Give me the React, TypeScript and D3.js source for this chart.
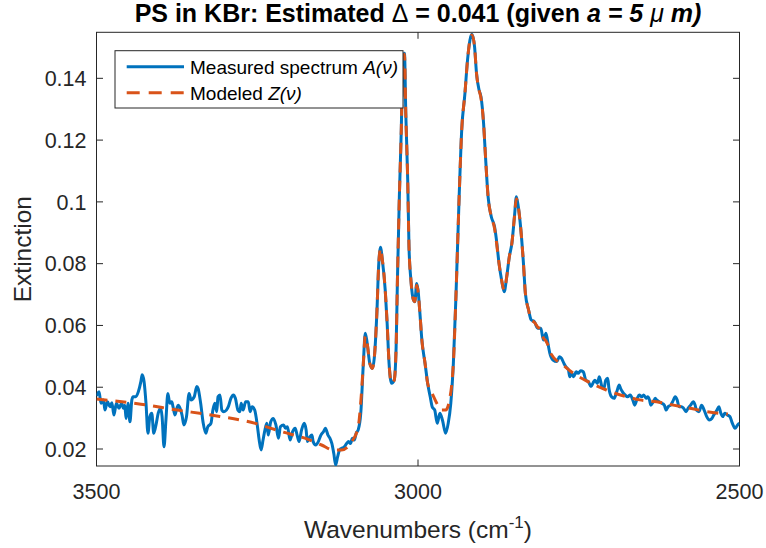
import React from "react";
import * as d3 from "d3";

const measuredWn = [3500,3496,3493,3489,3487,3483,3479,3476,3473,3469,3465,3461,3458,3456,3454,3451,3448,3445,3443,3439,3435,3431,3429,3426,3423,3420,3417,3414,3411,3407,3404,3400,3398,3395,3392,3389,3386,3383,3381,3378,3375,3373,3370,3367,3364,3360,3356,3353,3348,3344,3342,3338,3334,3330,3327,3322,3319,3316,3313,3311,3308,3305,3302,3298,3295,3291,3287,3284,3280,3277,3275,3272,3268,3264,3261,3258,3254,3250,3247,3244,3241,3238,3235,3233,3229,3225,3221,3217,3214,3209,3206,3203,3199,3195,3191,3188,3185,3181,3177,3174,3172,3168,3165,3163,3159,3155,3151,3147,3144,3140,3137,3134,3131,3128,3125,3122,3119,3115,3111,3108,3105,3102,3099,3096,3093,3089,3085,3082,3079,3075,3071,3068,3064,3061,3058,3056,3051,3048,3045,3041,3037,3034,3032,3029,3026,3024,3021,3019,3016,3014,3011,3007,3005,3002,3000,2997,2994,2989,2985,2981,2978,2974,2970,2966,2962,2957,2953,2949,2945,2941,2936,2932,2927,2923,2918,2916,2912,2909,2905,2902,2898,2895,2891,2886,2881,2878,2874,2870,2866,2862,2858,2854,2850,2847,2844,2840,2836,2833,2828,2824,2819,2814,2809,2805,2801,2797,2795,2790,2784,2780,2777,2773,2770,2766,2764,2761,2758,2754,2751,2747,2743,2739,2735,2731,2728,2725,2721,2718,2714,2711,2708,2705,2703,2699,2695,2691,2687,2685,2682,2678,2674,2670,2666,2663,2659,2656,2652,2649,2645,2643,2640,2638,2634,2631,2629,2625,2621,2617,2614,2611,2607,2604,2600,2597,2594,2590,2587,2583,2580,2576,2572,2569,2567,2563,2559,2555,2551,2547,2543,2540,2535,2532,2529,2526,2523,2519,2515,2511,2507,2503,2500];
const measuredVal = [0.0372,0.0385,0.0348,0.0359,0.0326,0.0353,0.0337,0.0350,0.0310,0.0348,0.0332,0.0348,0.0332,0.0342,0.0299,0.0348,0.0288,0.0359,0.0369,0.0369,0.0385,0.0418,0.0440,0.0418,0.0348,0.0251,0.0305,0.0316,0.0251,0.0283,0.0316,0.0332,0.0305,0.0207,0.0294,0.0380,0.0348,0.0353,0.0337,0.0310,0.0332,0.0342,0.0332,0.0310,0.0278,0.0305,0.0380,0.0359,0.0369,0.0402,0.0396,0.0348,0.0283,0.0251,0.0272,0.0283,0.0326,0.0348,0.0321,0.0369,0.0375,0.0326,0.0321,0.0326,0.0337,0.0364,0.0375,0.0364,0.0326,0.0321,0.0348,0.0326,0.0353,0.0353,0.0321,0.0337,0.0326,0.0278,0.0229,0.0197,0.0229,0.0262,0.0283,0.0245,0.0288,0.0299,0.0278,0.0235,0.0272,0.0278,0.0267,0.0272,0.0229,0.0256,0.0267,0.0245,0.0224,0.0262,0.0283,0.0262,0.0224,0.0240,0.0245,0.0224,0.0213,0.0224,0.0245,0.0256,0.0267,0.0245,0.0235,0.0218,0.0186,0.0148,0.0175,0.0197,0.0202,0.0206,0.0218,0.0224,0.0218,0.0235,0.0229,0.0252,0.0262,0.0316,0.0477,0.0575,0.0542,0.0477,0.0461,0.0494,0.0639,0.0801,0.0853,0.0822,0.0715,0.0607,0.0477,0.0413,0.0423,0.0531,0.0747,0.1017,0.1233,0.1427,0.1481,0.1287,0.1071,0.0855,0.0747,0.0682,0.0677,0.0736,0.0715,0.0639,0.0553,0.0477,0.0413,0.0369,0.0337,0.0326,0.0283,0.0316,0.0294,0.0251,0.0283,0.0348,0.0477,0.0693,0.1017,0.1233,0.1351,0.1459,0.1535,0.1543,0.1502,0.1416,0.1362,0.1340,0.1254,0.1146,0.1017,0.0952,0.0920,0.0877,0.0801,0.0747,0.0709,0.0758,0.0822,0.0866,0.0952,0.1017,0.0984,0.0909,0.0801,0.0704,0.0650,0.0618,0.0612,0.0591,0.0591,0.0553,0.0575,0.0531,0.0510,0.0488,0.0483,0.0499,0.0494,0.0477,0.0466,0.0456,0.0434,0.0445,0.0434,0.0450,0.0445,0.0453,0.0450,0.0423,0.0418,0.0402,0.0413,0.0423,0.0413,0.0434,0.0402,0.0396,0.0423,0.0429,0.0396,0.0369,0.0364,0.0385,0.0407,0.0396,0.0385,0.0375,0.0369,0.0375,0.0359,0.0342,0.0364,0.0375,0.0369,0.0375,0.0364,0.0369,0.0359,0.0342,0.0353,0.0364,0.0359,0.0353,0.0348,0.0342,0.0326,0.0337,0.0342,0.0353,0.0369,0.0359,0.0337,0.0337,0.0332,0.0321,0.0332,0.0342,0.0353,0.0342,0.0326,0.0321,0.0342,0.0326,0.0305,0.0294,0.0299,0.0310,0.0326,0.0337,0.0316,0.0305,0.0316,0.0310,0.0305,0.0283,0.0267,0.0278,0.0284];

const modelWn = [3500,3431,3374,3322,3253,3212,3176,3150,3132,3119,3103,3093,3088,3085,3082,3079,3075,3071,3068,3064,3061,3058,3056,3051,3048,3045,3041,3037,3034,3032,3029,3026,3024,3021,3019,3016,3014,3011,3007,3005,3002,3000,2997,2994,2989,2985,2977,2970,2963,2957,2951,2947,2945,2941,2936,2932,2927,2923,2918,2916,2912,2909,2905,2902,2898,2895,2891,2886,2881,2878,2874,2870,2866,2862,2858,2854,2850,2847,2844,2840,2836,2833,2828,2824,2819,2814,2809,2805,2801,2797,2795,2771,2759,2740,2707,2675,2655,2629,2603,2577,2551,2518];
const modelVal = [0.0362,0.0345,0.0326,0.0310,0.0283,0.0256,0.0235,0.0213,0.0197,0.0197,0.0224,0.0272,0.0380,0.0477,0.0565,0.0542,0.0477,0.0461,0.0494,0.0639,0.0801,0.0850,0.0822,0.0715,0.0607,0.0477,0.0413,0.0423,0.0531,0.0747,0.1017,0.1233,0.1427,0.1478,0.1287,0.1071,0.0855,0.0747,0.0682,0.0677,0.0730,0.0712,0.0639,0.0553,0.0477,0.0413,0.0375,0.0345,0.0326,0.0326,0.0359,0.0420,0.0477,0.0693,0.1017,0.1233,0.1351,0.1459,0.1535,0.1540,0.1502,0.1416,0.1362,0.1335,0.1254,0.1146,0.1017,0.0952,0.0915,0.0870,0.0801,0.0747,0.0715,0.0758,0.0822,0.0866,0.0952,0.1010,0.0984,0.0909,0.0801,0.0704,0.0650,0.0618,0.0610,0.0595,0.0585,0.0560,0.0550,0.0531,0.0515,0.0466,0.0446,0.0423,0.0391,0.0369,0.0359,0.0353,0.0342,0.0332,0.0321,0.0313];

const yTicks = [0.02, 0.04, 0.06, 0.08, 0.1, 0.12, 0.14];
const xTicks = [3500, 3000, 2500];
const legendLabels = ["Measured spectrum ", "Modeled "];
const legendSymbols = ["A(\u03bd)", "Z(\u03bd)"];

const W = 766, H = 548;
const M = { left: 96.5, right: 739.5, top: 32.3, bottom: 466 };
const FONT = "'Liberation Sans', Arial, Helvetica, sans-serif";
const AX = "#262626";
const BLUE = "#0072BD";
const ORANGE = "#D95319";

export default function App() {
  const x = d3.scaleLinear().domain([3500, 2500]).range([M.left, M.right]);
  const y = d3.scaleLinear().domain([0.0145, 0.1549]).range([M.bottom, M.top]);

  const measured = measuredWn.map((w, i) => [w, measuredVal[i]] as [number, number]);
  const model = modelWn.map((w, i) => [w, modelVal[i]] as [number, number]);

  const line = d3
    .line<[number, number]>()
    .x((d) => x(d[0]))
    .y((d) => y(d[1]))
    .curve(d3.curveMonotoneX);

  const tl = 6.5;
  const cx = (M.left + M.right) / 2;
  const cy = (M.top + M.bottom) / 2;

  const lg = { x: 115, y: 50.7, w: 288, h: 57.3 };

  return (
    <svg width={W} height={H} style={{ position: "absolute", left: 0, top: 0, background: "#fff" }} fontFamily={FONT}>
      <defs>
        <clipPath id="plotclip">
          <rect x={M.left} y={M.top} width={M.right - M.left} height={M.bottom - M.top} />
        </clipPath>
      </defs>
      <rect width={W} height={H} fill="#fff" />
      <rect x={M.left} y={M.top} width={M.right - M.left} height={M.bottom - M.top} fill="#fff" stroke={AX} strokeWidth={1} />
      {yTicks.map((t) => (
        <g key={"y" + t}>
          <line x1={M.left} x2={M.left + tl} y1={y(t)} y2={y(t)} stroke={AX} strokeWidth={1} />
          <line x1={M.right} x2={M.right - tl} y1={y(t)} y2={y(t)} stroke={AX} strokeWidth={1} />
          <text x={M.left - 10} y={y(t)} dy="0.36em" textAnchor="end" fontSize={21.5} fill={AX}>
            {String(t)}
          </text>
        </g>
      ))}
      {xTicks.map((t) => (
        <g key={"x" + t}>
          <line x1={x(t)} x2={x(t)} y1={M.bottom} y2={M.bottom - tl} stroke={AX} strokeWidth={1} />
          <line x1={x(t)} x2={x(t)} y1={M.top} y2={M.top + tl} stroke={AX} strokeWidth={1} />
          <text x={x(t)} y={M.bottom + 33} textAnchor="middle" fontSize={21.5} fill={AX}>
            {String(t)}
          </text>
        </g>
      ))}
      <g clipPath="url(#plotclip)">
        <path d={line(measured) || ""} fill="none" stroke={BLUE} strokeWidth={3} strokeLinejoin="round" />
        <path d={line(model) || ""} fill="none" stroke={ORANGE} strokeWidth={3} strokeDasharray="11 8" />
      </g>
      <text x={22} y={cy} transform={`rotate(-90 22 ${cy})`} dy="0.36em" textAnchor="middle" fontSize={24.5} fill={AX}>
        Extinction
      </text>
      <text x={cx} y={538} textAnchor="middle" fontSize={24.5} fill={AX}>
        Wavenumbers (cm<tspan dy={-10} fontSize={17}>-1</tspan><tspan dy={10}>)</tspan>
      </text>
      <text x={cx} y={22} textAnchor="middle" fontSize={25} fontWeight="bold" fill="#000">
        PS in KBr: Estimated <tspan fontWeight="normal">{"\u0394"}</tspan> = 0.041 (given <tspan fontStyle="italic">a = 5 </tspan>
        <tspan fontStyle="italic" fontWeight="normal">{"\u03bc"}</tspan>
        <tspan fontStyle="italic">{" m)"}</tspan>
      </text>
      <rect x={lg.x} y={lg.y} width={lg.w} height={lg.h} fill="#fff" stroke={AX} strokeWidth={1} />
      <line x1={126.7} x2={184} y1={66.7} y2={66.7} stroke={BLUE} strokeWidth={3} />
      <line x1={126.7} x2={184} y1={92.7} y2={92.7} stroke={ORANGE} strokeWidth={3} strokeDasharray="13 9" />
      {legendLabels.map((l, i) => (
        <text key={l} x={190} y={66.7 + i * 26} dy="0.36em" fontSize={19} fill="#000">
          {l}
          <tspan fontStyle="italic">{legendSymbols[i]}</tspan>
        </text>
      ))}
    </svg>
  );
}
